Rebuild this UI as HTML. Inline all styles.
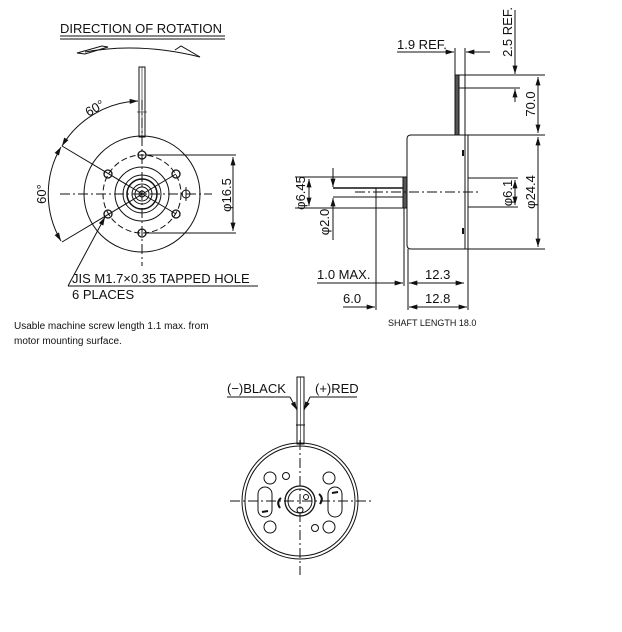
<!DOCTYPE html>
<html><head><meta charset="utf-8"><style>
html,body{margin:0;padding:0;background:#fff;width:622px;height:632px;overflow:hidden}
svg{display:block}
text{font-family:"Liberation Sans",sans-serif;fill:#111}
</style></head><body>
<svg width="622" height="632" viewBox="0 0 622 632" xmlns="http://www.w3.org/2000/svg">
<defs>
<marker id="a" viewBox="0 0 10 6" refX="10" refY="3" markerWidth="9" markerHeight="5" orient="auto-start-reverse" markerUnits="userSpaceOnUse"><path d="M0,0 L10,3 L0,6 Z" fill="#111"/></marker>
</defs>
<g stroke="#111" fill="none" stroke-width="1">
<!-- DIRECTION OF ROTATION -->
<line x1="60" y1="36" x2="225" y2="36"/><line x1="60" y1="39" x2="225" y2="39"/>
<path d="M85,52 Q140,42 200,57"/>
<path d="M77,53 L102,46 L108,47 L85,54 Z"/>
<path d="M175,50 L181,46 L200,57"/>

<!-- front view -->
<rect x="139" y="67" width="6" height="70" stroke-width="1"/>
<line x1="142" y1="67" x2="142" y2="137" stroke-width="0.6"/>
<line x1="137" y1="112" x2="147" y2="112" stroke-width="0.6"/>
<circle cx="142" cy="194" r="58"/>
<circle cx="142" cy="194" r="39" stroke-dasharray="6,3"/>
<circle cx="142" cy="194" r="27"/>
<circle cx="142" cy="194" r="19"/>
<circle cx="142" cy="194" r="15" stroke-width="1.5"/>
<circle cx="142" cy="194" r="10"/>
<circle cx="142" cy="194" r="7"/>
<circle cx="142" cy="194" r="3"/>
<g stroke-width="1.3">
<circle cx="142" cy="155" r="4"/><circle cx="142" cy="233" r="4"/>
<circle cx="108" cy="174" r="4"/><circle cx="176" cy="174" r="4"/>
<circle cx="108" cy="214" r="4"/><circle cx="176" cy="214" r="4"/>
</g>
<circle cx="186" cy="194" r="4"/>
<line x1="186" y1="187" x2="186" y2="201"/>
<line x1="60" y1="194" x2="212" y2="194" stroke-dasharray="10,3,2,3"/>
<line x1="142" y1="100" x2="142" y2="266" stroke-dasharray="10,3,2,3"/>
<line x1="62" y1="146" x2="176" y2="214"/>
<line x1="62" y1="242" x2="176" y2="174"/>
<line x1="146" y1="155" x2="236" y2="155"/>
<line x1="146" y1="233" x2="236" y2="233"/>
<line x1="233" y1="157" x2="233" y2="231" marker-start="url(#a)" marker-end="url(#a)"/>
<path d="M138,101 A93,93 0 0 0 62,146" marker-start="url(#a)" marker-end="url(#a)"/>
<path d="M61,147 A93,93 0 0 0 61,241" marker-start="url(#a)" marker-end="url(#a)"/>
<line x1="68" y1="286" x2="105" y2="217" marker-end="url(#a)"/>
<line x1="68" y1="286" x2="258" y2="286"/>

<!-- side view -->
<path d="M411,135 L465,135 L465,249 L411,249 Q407,249 407,245 L407,139 Q407,135 411,135 Z"/>
<line x1="468" y1="135" x2="468" y2="310"/>
<line x1="465" y1="135" x2="545" y2="135"/>
<line x1="465" y1="249" x2="545" y2="249"/>
<rect x="455" y="75" width="4" height="60" fill="#555"/>
<rect x="403" y="177" width="4" height="31" fill="#555"/>
<line x1="295" y1="177" x2="403" y2="177"/>
<line x1="295" y1="208" x2="403" y2="208"/>
<line x1="333" y1="188" x2="403" y2="188" stroke-width="1.4"/>
<line x1="333" y1="197" x2="403" y2="197"/>
<line x1="468" y1="178" x2="518" y2="178"/>
<line x1="468" y1="207" x2="518" y2="207"/>
<line x1="355" y1="192" x2="480" y2="192" stroke-dasharray="10,3,2,3"/>
<line x1="309" y1="179" x2="309" y2="206" marker-start="url(#a)" marker-end="url(#a)"/>
<line x1="333" y1="168" x2="333" y2="187" marker-end="url(#a)"/>
<line x1="333" y1="240" x2="333" y2="198" marker-end="url(#a)"/>
<line x1="515" y1="180" x2="515" y2="205" marker-start="url(#a)" marker-end="url(#a)"/>
<line x1="538" y1="137" x2="538" y2="247" marker-start="url(#a)" marker-end="url(#a)"/>
<line x1="538" y1="77" x2="538" y2="133" marker-start="url(#a)" marker-end="url(#a)"/>
<line x1="459" y1="75" x2="545" y2="75"/>
<line x1="459" y1="88" x2="520" y2="88"/>
<line x1="515" y1="10" x2="515" y2="74" marker-end="url(#a)"/>
<line x1="515" y1="102" x2="515" y2="89" marker-end="url(#a)"/>
<line x1="455" y1="48" x2="455" y2="75"/>
<line x1="465" y1="48" x2="465" y2="135"/>
<line x1="397" y1="52" x2="454" y2="52" marker-end="url(#a)"/>
<line x1="490" y1="52" x2="466" y2="52" marker-end="url(#a)"/>
<line x1="376" y1="188" x2="376" y2="310"/>
<line x1="404" y1="208" x2="404" y2="286"/>
<line x1="408" y1="249" x2="408" y2="310"/>
<line x1="317" y1="283" x2="403" y2="283" marker-end="url(#a)"/>
<line x1="409" y1="283" x2="464" y2="283" marker-start="url(#a)" marker-end="url(#a)"/>
<line x1="343" y1="307" x2="375" y2="307" marker-end="url(#a)"/>
<line x1="409" y1="307" x2="467" y2="307" marker-start="url(#a)" marker-end="url(#a)"/>
<line x1="463" y1="150" x2="463" y2="156" stroke-width="2"/>
<line x1="463" y1="228" x2="463" y2="234" stroke-width="2"/>

<!-- rear view -->
<rect x="297" y="377" width="7" height="67"/>
<line x1="300.5" y1="377" x2="300.5" y2="444" stroke-width="0.6"/>
<line x1="296" y1="425" x2="305" y2="425"/>
<circle cx="300" cy="501" r="58"/>
<circle cx="300" cy="501" r="55"/>
<circle cx="300" cy="501" r="15" stroke-width="1.3"/>
<circle cx="300" cy="501" r="12"/>
<circle cx="306" cy="497" r="2.5"/><circle cx="300" cy="510" r="3"/>
<rect x="258" y="487" width="14" height="30" rx="7"/>
<rect x="328" y="487" width="14" height="30" rx="7"/>
<line x1="262" y1="512" x2="268" y2="511" stroke-width="2"/>
<line x1="332" y1="493" x2="338" y2="492" stroke-width="2"/>
<circle cx="270" cy="478" r="6"/><circle cx="286" cy="476" r="3.5"/>
<circle cx="329" cy="478" r="6"/><circle cx="270" cy="527" r="6"/>
<circle cx="315" cy="528" r="3.5"/><circle cx="329" cy="527" r="6"/>
<path d="M281,498 q-5,4 -1,10" stroke-width="2"/>
<path d="M319,494 q5,4 1,10" stroke-width="2"/>
<line x1="230" y1="501" x2="372" y2="501" stroke-dasharray="10,3,2,3"/>
<line x1="300" y1="440" x2="300" y2="575" stroke-dasharray="10,3,2,3"/>
<line x1="227" y1="397" x2="290" y2="397"/>
<line x1="290" y1="397" x2="297" y2="410" marker-end="url(#a)"/>
<line x1="310" y1="397" x2="357" y2="397"/>
<line x1="310" y1="397" x2="304" y2="410" marker-end="url(#a)"/>
</g>

<g font-size="13">
<text x="60" y="33">DIRECTION OF ROTATION</text>
<text x="72" y="283">JIS M1.7×0.35 TAPPED HOLE</text>
<text x="72" y="299">6 PLACES</text>
<text x="397" y="49">1.9 REF.</text>
<text x="317" y="279">1.0 MAX.</text>
<text x="425" y="279">12.3</text>
<text x="343" y="303">6.0</text>
<text x="425" y="303">12.8</text>
<text x="227" y="393">(−)BLACK</text>
<text x="315" y="393">(+)RED</text>
<text transform="translate(97,112) rotate(-30)" text-anchor="middle">60°</text>
<text transform="translate(46,194) rotate(-90)" text-anchor="middle">60°</text>
<text transform="translate(231,195) rotate(-90)" text-anchor="middle">φ16.5</text>
<text transform="translate(305,193) rotate(-90)" text-anchor="middle">φ6.45</text>
<text transform="translate(329,222) rotate(-90)" text-anchor="middle">φ2.0</text>
<text transform="translate(512,193) rotate(-90)" text-anchor="middle">φ6.1</text>
<text transform="translate(535,192) rotate(-90)" text-anchor="middle">φ24.4</text>
<text transform="translate(535,104) rotate(-90)" text-anchor="middle">70.0</text>
<text transform="translate(512,32) rotate(-90)" text-anchor="middle">2.5 REF.</text>
</g>
<text x="388" y="326" font-size="9">SHAFT LENGTH 18.0</text>
<text x="14" y="329" font-size="10">Usable machine screw length 1.1 max. from</text>
<text x="14" y="344" font-size="10">motor mounting surface.</text>
</svg>
</body></html>
